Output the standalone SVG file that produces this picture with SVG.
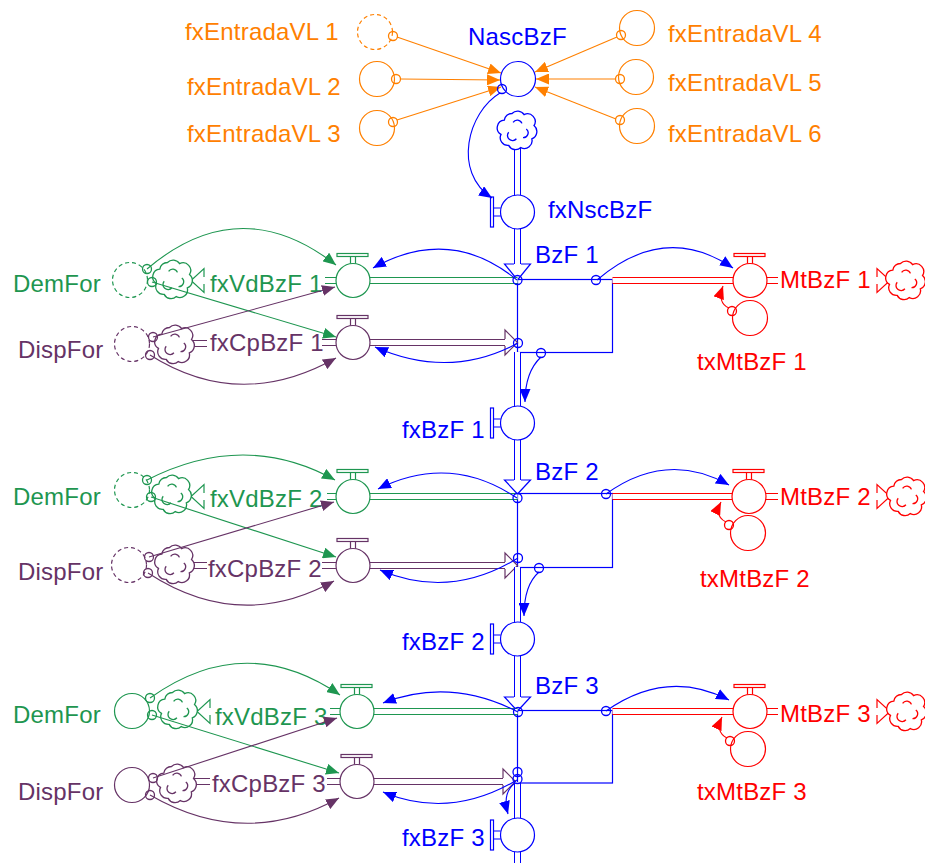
<svg xmlns="http://www.w3.org/2000/svg" width="925" height="863" viewBox="0 0 925 863">
<style>
text{font-family:"Liberation Sans",Arial,sans-serif;font-size:24px;letter-spacing:0.2px}
.o{fill:#FF8000}.b{fill:#0000FF}.g{fill:#1E9650}.p{fill:#663366}.r{fill:#FF0000}
.sym{fill:#fff;stroke:currentColor;stroke-width:1.2}
.nf{fill:none;stroke:currentColor;stroke-width:1.2}
.po{fill:none;stroke:currentColor;stroke-width:7}
.pi{fill:none;stroke:#fff;stroke-width:5}
.ar{fill:#fff;stroke:currentColor;stroke-width:1.2}
.dash{stroke-dasharray:4 3}
.cn{fill:none;stroke-width:1.1}
.jc{fill:none;stroke-width:1.3}
</style>
<defs>
<marker id="mO" viewBox="0 0 13 11" refX="13" refY="5.5" markerWidth="13" markerHeight="11" markerUnits="userSpaceOnUse" orient="auto"><path d="M0,0L13,5.5L0,11z" fill="#FF8000"/></marker>
<marker id="mB" viewBox="0 0 13 11" refX="13" refY="5.5" markerWidth="13" markerHeight="11" markerUnits="userSpaceOnUse" orient="auto"><path d="M0,0L13,5.5L0,11z" fill="#0000FF"/></marker>
<marker id="mG" viewBox="0 0 13 11" refX="13" refY="5.5" markerWidth="13" markerHeight="11" markerUnits="userSpaceOnUse" orient="auto"><path d="M0,0L13,5.5L0,11z" fill="#1E9650"/></marker>
<marker id="mP" viewBox="0 0 13 11" refX="13" refY="5.5" markerWidth="13" markerHeight="11" markerUnits="userSpaceOnUse" orient="auto"><path d="M0,0L13,5.5L0,11z" fill="#663366"/></marker>
<marker id="mR" viewBox="0 0 13 11" refX="13" refY="5.5" markerWidth="13" markerHeight="11" markerUnits="userSpaceOnUse" orient="auto"><path d="M0,0L13,5.5L0,11z" fill="#FF0000"/></marker>
<g id="cloud" transform="scale(1.1)">
<path class="sym" d="M-5,-15A7,7 0 0 1 6,-14A7,7 0 0 1 15,-4A7,7 0 0 1 13,8A7,7 0 0 1 3,16A7,7 0 0 1 -8,14A7,7 0 0 1 -15,4A7,7 0 0 1 -12,-9A7,7 0 0 1 -5,-15Z"/>
<path class="nf" d="M-4,-7A4.5,4.5 0 0 1 4,-6M8,-1A4.5,4.5 0 0 1 5,7M-1,8A4.5,4.5 0 0 1 -8,2"/>
</g>
<g id="vH"><circle class="sym" r="17"/><rect class="sym" x="-16" y="-27" width="31" height="3"/><path class="nf" d="M-2.5,-24V-17M2.5,-24V-17"/></g>
<g id="vV"><circle class="sym" r="17"/><rect class="sym" x="-27" y="-15" width="3" height="30"/><path class="nf" d="M-24,-4H-17M-24,4H-17"/></g>
</defs>

<!-- stocks -->
<g id="BzF1" style="color:#0000FF"><rect class="nf" x="517.5" y="279.5" width="95" height="73"/><text class="b" x="535" y="263">BzF 1</text></g>
<g id="BzF2" style="color:#0000FF"><rect class="nf" x="517.5" y="493.5" width="95" height="74"/><text class="b" x="535" y="480">BzF 2</text></g>
<g id="BzF3" style="color:#0000FF"><rect class="nf" x="517.5" y="710.5" width="95" height="72.5"/><text class="b" x="535" y="694">BzF 3</text></g>

<!-- top inflow -->
<g id="fxNscBzF" style="color:#0000FF">
<path class="po" d="M517.5,146V196M517.5,228V264"/><path class="pi" d="M517.5,146V196M517.5,228V264"/>
<polyline class="ar" points="514,264 504.5,264 517.5,280 530.5,264 521,264"/>
<use href="#cloud" x="517.5" y="130"/>
<use href="#vV" x="517.5" y="212"/>
<text class="b" x="548" y="218">fxNscBzF</text>
</g>
<g id="NascBzF" style="color:#0000FF"><circle class="nf" cx="518" cy="79" r="17.5"/><text class="b" x="468" y="45">NascBzF</text></g>
<g id="fxEntradaVL1" style="color:#FF8000"><circle class="nf dash" cx="375" cy="32" r="17.5"/><text class="o" x="185" y="40">fxEntradaVL 1</text></g>
<g id="fxEntradaVL2" style="color:#FF8000"><circle class="nf" cx="377" cy="79" r="17.5"/><text class="o" x="187" y="95">fxEntradaVL 2</text></g>
<g id="fxEntradaVL3" style="color:#FF8000"><circle class="nf" cx="377" cy="128" r="17.5"/><text class="o" x="187" y="142">fxEntradaVL 3</text></g>
<g id="fxEntradaVL4" style="color:#FF8000"><circle class="nf" cx="637" cy="28" r="17.5"/><text class="o" x="668" y="42">fxEntradaVL 4</text></g>
<g id="fxEntradaVL5" style="color:#FF8000"><circle class="nf" cx="636" cy="77" r="17.5"/><text class="o" x="668" y="91">fxEntradaVL 5</text></g>
<g id="fxEntradaVL6" style="color:#FF8000"><circle class="nf" cx="637" cy="126" r="17.5"/><text class="o" x="668" y="142">fxEntradaVL 6</text></g>

<!-- section 1 -->
<g id="fxVdBzF1" style="color:#1E9650">
<path class="po" d="M325,280.5H337M369,280.5H517.5"/><path class="pi" d="M325,280.5H337M369,280.5H517.5"/>
<polyline class="ar" points="204,277 204,268.5 191,280.5 204,292.5 204,284"/>
<use href="#cloud" x="173" y="279"/>
<use href="#vH" x="353" y="280.5"/>
<text class="g" x="210" y="292">fxVdBzF 1</text>
</g>
<g id="fxCpBzF1" style="color:#663366">
<path class="po" d="M190,343.5H207M322,342.5H337M369,342.5H505"/><path class="pi" d="M190,343.5H207M322,342.5H337M369,342.5H505"/>
<polyline class="ar" points="505,339 505,330 517.5,342.5 505,355 505,346"/>
<use href="#cloud" x="175" y="344"/>
<use href="#vH" x="353" y="342.5"/>
<text class="p" x="210" y="351">fxCpBzF 1</text>
</g>
<g id="MtBzF1" style="color:#FF0000">
<path class="po" d="M612.5,280.5H734M766,280.5H778"/><path class="pi" d="M612.5,280.5H734M766,280.5H778"/>
<polyline class="ar" points="877,277 877,268.5 890,280.5 877,292.5 877,284"/>
<use href="#cloud" x="906" y="280"/>
<use href="#vH" x="750" y="280.5"/>
<text class="r" x="780" y="288">MtBzF 1</text>
</g>
<g id="fxBzF1" style="color:#0000FF">
<path class="po" d="M517.5,352V407M517.5,439V480"/><path class="pi" d="M517.5,352V407M517.5,439V480"/>
<polyline class="ar" points="514,480 504.5,480 517.5,494 530.5,480 521,480"/>
<use href="#vV" x="517.5" y="423"/>
<text class="b" x="402" y="438">fxBzF 1</text>
</g>
<g id="txMtBzF1" style="color:#FF0000"><circle class="nf" cx="750" cy="318" r="17.5"/><text class="r" x="697" y="370">txMtBzF 1</text></g>
<g id="DemFor1" style="color:#1E9650"><circle class="nf dash" cx="130" cy="280" r="17.5"/><text class="g" x="13" y="292">DemFor</text></g>
<g id="DispFor1" style="color:#663366"><circle class="nf dash" cx="132" cy="344" r="17.5"/><text class="p" x="18" y="358">DispFor</text></g>

<!-- section 2 -->
<g id="fxVdBzF2" style="color:#1E9650">
<path class="po" d="M327,496.5H337M369,496.5H517.5"/><path class="pi" d="M327,496.5H337M369,496.5H517.5"/>
<polyline class="ar" points="204,493 204,484.5 191,496.5 204,508.5 204,500"/>
<use href="#cloud" x="172" y="494"/>
<use href="#vH" x="353" y="496.5"/>
<text class="g" x="210" y="507">fxVdBzF 2</text>
</g>
<g id="fxCpBzF2" style="color:#663366">
<path class="po" d="M190,565.5H207M322,565.5H337M369,565.5H505"/><path class="pi" d="M190,565.5H207M322,565.5H337M369,565.5H505"/>
<polyline class="ar" points="505,562 505,553 517.5,565.5 505,578 505,569"/>
<use href="#cloud" x="175" y="564"/>
<use href="#vH" x="353" y="565.5"/>
<text class="p" x="208" y="577">fxCpBzF 2</text>
</g>
<g id="MtBzF2" style="color:#FF0000">
<path class="po" d="M612.5,496.5H733M765,496.5H778"/><path class="pi" d="M612.5,496.5H733M765,496.5H778"/>
<polyline class="ar" points="877,493 877,484.5 890,496.5 877,508.5 877,500"/>
<use href="#cloud" x="907" y="496"/>
<use href="#vH" x="749" y="496.5"/>
<text class="r" x="780" y="505">MtBzF 2</text>
</g>
<g id="fxBzF2" style="color:#0000FF">
<path class="po" d="M517.5,567V623M517.5,655V697"/><path class="pi" d="M517.5,567V623M517.5,655V697"/>
<polyline class="ar" points="514,697 504.5,697 517.5,711 530.5,697 521,697"/>
<use href="#vV" x="517.5" y="639"/>
<text class="b" x="402" y="650">fxBzF 2</text>
</g>
<g id="txMtBzF2" style="color:#FF0000"><circle class="nf" cx="748" cy="533" r="17.5"/><text class="r" x="700" y="587">txMtBzF 2</text></g>
<g id="DemFor2" style="color:#1E9650"><circle class="nf dash" cx="132" cy="490" r="17.5"/><text class="g" x="13" y="505">DemFor</text></g>
<g id="DispFor2" style="color:#663366"><circle class="nf dash" cx="129" cy="565" r="17.5"/><text class="p" x="18" y="580">DispFor</text></g>

<!-- section 3 -->
<g id="fxVdBzF3" style="color:#1E9650">
<path class="po" d="M330,711.5H341M373,711.5H517.5"/><path class="pi" d="M330,711.5H341M373,711.5H517.5"/>
<polyline class="ar" points="210,708 210,699.5 197,711.5 210,723.5 210,715"/>
<use href="#cloud" x="178" y="709"/>
<use href="#vH" x="357" y="711.5"/>
<text class="g" x="215" y="725">fxVdBzF 3</text>
</g>
<g id="fxCpBzF3" style="color:#663366">
<path class="po" d="M194,781.5H210M327,781.5H341M373,781.5H503"/><path class="pi" d="M194,781.5H210M327,781.5H341M373,781.5H503"/>
<polyline class="ar" points="503,778 503,769 515.5,781.5 503,794 503,785"/>
<use href="#cloud" x="177" y="783"/>
<use href="#vH" x="357" y="781.5"/>
<text class="p" x="212" y="792">fxCpBzF 3</text>
</g>
<g id="MtBzF3" style="color:#FF0000">
<path class="po" d="M612.5,711.5H734M766,711.5H778"/><path class="pi" d="M612.5,711.5H734M766,711.5H778"/>
<polyline class="ar" points="877,708 877,699.5 890,711.5 877,723.5 877,715"/>
<use href="#cloud" x="907" y="711"/>
<use href="#vH" x="750" y="711.5"/>
<text class="r" x="780" y="722">MtBzF 3</text>
</g>
<g id="fxBzF3" style="color:#0000FF">
<path class="po" d="M517.5,782V819M517.5,851V863"/><path class="pi" d="M517.5,782V819M517.5,851V863"/>
<use href="#vV" x="517.5" y="835"/>
<text class="b" x="402" y="846">fxBzF 3</text>
</g>
<g id="txMtBzF3" style="color:#FF0000"><circle class="nf" cx="748" cy="749" r="17.5"/><text class="r" x="697" y="800">txMtBzF 3</text></g>
<g id="DemFor3" style="color:#1E9650"><circle class="nf" cx="132" cy="711" r="17.5"/><text class="g" x="13" y="723">DemFor</text></g>
<g id="DispFor3" style="color:#663366"><circle class="nf" cx="132" cy="785" r="17.5"/><text class="p" x="18" y="800">DispFor</text></g>

<!-- connectors -->
<g id="connectors">
<g stroke="#FF8000">
<path class="cn" marker-end="url(#mO)" d="M397,37L501,73"/>
<path class="cn" marker-end="url(#mO)" d="M400.5,79L500,80"/>
<path class="cn" marker-end="url(#mO)" d="M397,120L501,87"/>
<path class="cn" marker-end="url(#mO)" d="M617,37L535,72"/>
<path class="cn" marker-end="url(#mO)" d="M615.5,79L536,79"/>
<path class="cn" marker-end="url(#mO)" d="M616,119L535,87"/>
<circle class="jc" cx="393" cy="36" r="4.5"/><circle class="jc" cx="396" cy="79" r="4.5"/><circle class="jc" cx="393" cy="122" r="4.5"/>
<circle class="jc" cx="621" cy="35" r="4.5"/><circle class="jc" cx="620" cy="79" r="4.5"/><circle class="jc" cx="620" cy="120" r="4.5"/>
</g>
<g stroke="#0000FF">
<path class="cn" marker-end="url(#mB)" d="M500,93C468,112 452,172 492,198"/>
<circle class="jc" cx="502" cy="89" r="4.5"/>
<path class="cn" marker-end="url(#mB)" d="M517,280Q450,225 373,268"/>
<path class="cn" marker-end="url(#mB)" d="M518,343Q450,380 375,347"/>
<path class="cn" marker-end="url(#mB)" d="M597,280Q665,222 733,268"/>
<path class="cn" marker-end="url(#mB)" d="M541,357Q525,372 525,402"/>
<path class="cn" marker-end="url(#mB)" d="M517,498Q450,453 378,489"/>
<path class="cn" marker-end="url(#mB)" d="M518,558Q450,600 380,570"/>
<path class="cn" marker-end="url(#mB)" d="M606,494Q667,450 729,485"/>
<path class="cn" marker-end="url(#mB)" d="M539,572Q524,585 524,616"/>
<path class="cn" marker-end="url(#mB)" d="M518,712Q450,677 383,703"/>
<path class="cn" marker-end="url(#mB)" d="M517,780Q450,820 383,792"/>
<path class="cn" marker-end="url(#mB)" d="M606,711Q667,668 729,700"/>
<path class="cn" marker-end="url(#mB)" d="M515,783Q502,793 508,814"/>
<circle class="jc" cx="517.5" cy="280" r="4.5"/><circle class="jc" cx="596" cy="280" r="4.5"/><circle class="jc" cx="518" cy="343" r="4.5"/><circle class="jc" cx="541" cy="353" r="4.5"/>
<circle class="jc" cx="517.5" cy="498" r="4.5"/><circle class="jc" cx="606" cy="494" r="4.5"/><circle class="jc" cx="518" cy="558" r="4.5"/><circle class="jc" cx="539" cy="568" r="4.5"/>
<circle class="jc" cx="518" cy="712" r="4.5"/><circle class="jc" cx="606" cy="711" r="4.5"/><circle class="jc" cx="517.5" cy="772" r="4.5"/><circle class="jc" cx="517.5" cy="779" r="4.5"/>
</g>
<g stroke="#1E9650">
<path class="cn" marker-end="url(#mG)" d="M147,269Q240,190 336,265"/>
<path class="cn" marker-end="url(#mG)" d="M152,282L336,337"/>
<path class="cn" marker-end="url(#mG)" d="M147,480Q245,430 335,480"/>
<path class="cn" marker-end="url(#mG)" d="M151,497L336,557"/>
<path class="cn" marker-end="url(#mG)" d="M150,698Q245,630 340,695"/>
<path class="cn" marker-end="url(#mG)" d="M152,715L339,773"/>
<circle class="jc" cx="147" cy="269" r="4.5"/><circle class="jc" cx="152" cy="282" r="4.5"/>
<circle class="jc" cx="147" cy="480" r="4.5"/><circle class="jc" cx="151" cy="497" r="4.5"/>
<circle class="jc" cx="150" cy="698" r="4.5"/><circle class="jc" cx="152" cy="715" r="4.5"/>
</g>
<g stroke="#663366">
<path class="cn" marker-end="url(#mP)" d="M153,337L335,287"/>
<path class="cn" marker-end="url(#mP)" d="M150,355Q240,412 336,358"/>
<path class="cn" marker-end="url(#mP)" d="M149,557L334,502"/>
<path class="cn" marker-end="url(#mP)" d="M148,573Q240,633 334,581"/>
<path class="cn" marker-end="url(#mP)" d="M153,778L337,718"/>
<path class="cn" marker-end="url(#mP)" d="M150,795Q245,850 339,798"/>
<circle class="jc" cx="153" cy="337" r="4.5"/><circle class="jc" cx="150" cy="355" r="4.5"/>
<circle class="jc" cx="149" cy="557" r="4.5"/><circle class="jc" cx="148" cy="573" r="4.5"/>
<circle class="jc" cx="153" cy="778" r="4.5"/><circle class="jc" cx="150" cy="795" r="4.5"/>
</g>
<g stroke="#FF0000">
<path class="cn" marker-end="url(#mR)" d="M729,308Q717,303 723,286"/>
<path class="cn" marker-end="url(#mR)" d="M726,522Q714,516 721,502"/>
<path class="cn" marker-end="url(#mR)" d="M727,738Q715,732 722,717"/>
<circle class="jc" cx="732" cy="311" r="4.5"/><circle class="jc" cx="729" cy="525" r="4.5"/><circle class="jc" cx="730" cy="741" r="4.5"/>
</g>
</g>
</svg>
